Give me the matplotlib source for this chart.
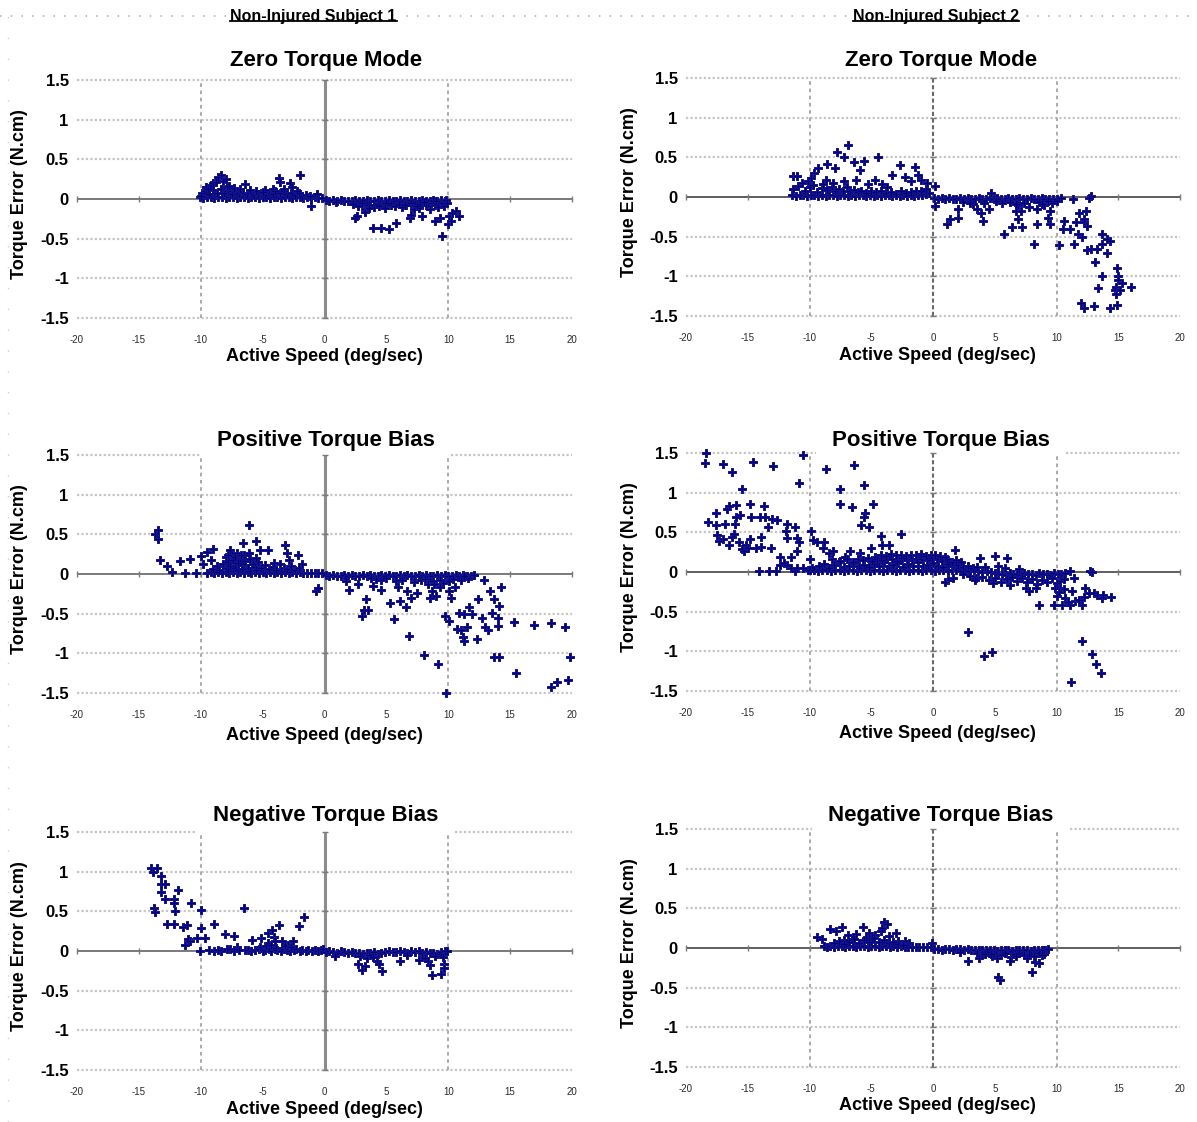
import matplotlib
matplotlib.use("Agg")
import matplotlib.pyplot as plt
from matplotlib.lines import Line2D

plt.rcParams['font.family'] = ['Liberation Sans', 'DejaVu Sans']

# ---------------------------------------------------------------- labels
subject_names = ["Non-Injured Subject 1", "Non-Injured Subject 2"]
mode_names = ["Zero Torque Mode", "Positive Torque Bias", "Negative Torque Bias"]
x_label = "Active Speed (deg/sec)"
y_label = "Torque Error (N.cm)"
x_ticks = [-20, -15, -10, -5, 0, 5, 10, 15, 20]
x_tick_labels = ["-20", "-15", "-10", "-5", "0", "5", "10", "15", "20"]
y_ticks = [-1.5, -1, -0.5, 0, 0.5, 1, 1.5]
y_tick_labels = ["-1.5", "-1", "-0.5", "0", "0.5", "1", "1.5"]
speed_limits = [-10, 10]

# ---------------------------------------------------------------- subject 1, zero torque
zero_s1_speed = [
    -10.1, -9.8, -9.5, -9.2, -8.9, -8.6, -8.3, -8.0, -7.7, -7.4,
    -7.1, -6.8, -6.5, -6.2, -5.9, -5.6, -5.3, -5.0, -4.7, -4.4,
    -4.1, -3.8, -3.5, -3.2, -2.9, -2.6, -2.3, -2.0, -1.7, -1.4,
    -1.1, -0.8, -0.5, -0.2,
    -9.9, -9.6, -9.3, -9.0, -8.7, -8.4, -8.1, -7.8, -7.5, -7.2,
    -6.9, -6.6, -6.3, -6.0, -5.7, -5.4, -5.1, -4.8, -4.5, -4.2,
    -3.9, -3.6, -3.3, -3.0, -2.7, -2.4, -2.1, -1.8, -1.5, -1.2,
    -10.0, -9.6, -9.2, -9.0, -8.8, -8.6, -8.4, -8.2, -8.0, -7.9,
    -7.7, -7.3, -6.8, -6.4, -3.65, -3.6, -2.8, -2.6, -1.95, -1.1,
    -5.5, -4.8, -4.2, -3.3, -0.6, -9.4, -6.0, -5.0, -4.0, -2.2,
    0.1, 0.4, 0.7, 1.0, 1.3, 1.6, 1.9, 2.2, 2.5, 2.8,
    3.1, 3.4, 3.7, 4.0, 4.3, 4.6, 4.9, 5.2, 5.5, 5.8,
    6.1, 6.4, 6.7, 7.0, 7.3, 7.6, 7.9, 8.2, 8.5, 8.8,
    9.1, 9.4, 9.7,
    2.3, 2.7, 3.0, 3.3, 3.6, 4.0, 4.3, 4.7, 5.0, 5.4,
    5.7, 6.0, 6.3, 6.6, 7.0, 7.3, 7.6, 7.9, 8.2, 8.6,
    8.9, 9.2, 9.5,
    2.5, 3.3, 3.6, 3.9, 4.4, 4.6, 4.85, 5.2, 5.8, 6.9,
    7.2, 7.5, 7.9, 8.4, 8.55, 8.9, 9.3, 9.5, 9.65, 9.8,
    10.0, 10.1, 10.6, 10.9, 0.9, 2.6, 6.5, 7.0, 8.0, 9.0,
    9.9, 10.2, 10.3,
]
zero_s1_error = [
    0.02, 0.01, 0.03, 0.02, 0.01, 0.02, 0.03, 0.01, 0.02, 0.02,
    0.01, 0.03, 0.02, 0.01, 0.02, 0.03, 0.01, 0.02, 0.02, 0.01,
    0.03, 0.02, 0.01, 0.02, 0.03, 0.01, 0.02, 0.02, 0.01, 0.02,
    0.01, 0.02, 0.01, 0.01,
    0.07, 0.10, 0.06, 0.11, 0.08, 0.12, 0.07, 0.10, 0.06, 0.09,
    0.07, 0.08, 0.06, 0.07, 0.05, 0.06, 0.07, 0.05, 0.08, 0.06,
    0.09, 0.07, 0.10, 0.06, 0.08, 0.05, 0.07, 0.04, 0.05, 0.04,
    0.04, 0.15, 0.18, 0.20, 0.22, 0.28, 0.30, 0.23, 0.25, 0.15,
    0.16, 0.14, 0.12, 0.19, 0.26, 0.22, 0.20, 0.15, 0.30, -0.09,
    0.10, 0.11, 0.12, 0.13, 0.06, 0.12, 0.11, 0.09, 0.10, 0.10,
    -0.01, -0.02, -0.01, -0.02, -0.01, -0.02, -0.03, -0.02, -0.01, -0.03,
    -0.02, -0.01, -0.03, -0.02, -0.01, -0.03, -0.02, -0.01, -0.02, -0.03,
    -0.01, -0.02, -0.03, -0.01, -0.02, -0.03, -0.01, -0.02, -0.03, -0.01,
    -0.02, -0.01, -0.02,
    -0.06, -0.09, -0.05, -0.12, -0.07, -0.10, -0.06, -0.08, -0.05, -0.07,
    -0.09, -0.06, -0.10, -0.08, -0.05, -0.07, -0.11, -0.06, -0.08, -0.05,
    -0.07, -0.10, -0.05,
    -0.24, -0.17, -0.11, -0.36, -0.09, -0.36, -0.11, -0.38, -0.30, -0.24,
    -0.13, -0.09, -0.22, -0.05, -0.13, -0.28, -0.24, -0.47, -0.09, -0.01,
    -0.32, -0.22, -0.15, -0.22, -0.04, -0.21, -0.07, -0.20, -0.04, -0.02,
    -0.05, -0.28, -0.18,
]

# ---------------------------------------------------------------- subject 2, zero torque
zero_s2_speed = [
    -11.4, -11.1, -10.8, -10.5, -10.2, -9.9, -9.6, -9.3, -9.0, -8.7,
    -8.4, -8.1, -7.8, -7.5, -7.2, -6.9, -6.6, -6.3, -6.0, -5.7,
    -5.4, -5.1, -4.8, -4.5, -4.2, -3.9, -3.6, -3.3, -3.0, -2.7,
    -2.4, -2.1, -1.8, -1.5, -1.2, -0.9, -0.6, -0.3,
    -11.3, -10.9, -10.4, -10.0, -9.7, -9.4, -9.0, -8.6, -8.2, -7.9,
    -7.6, -7.3, -7.0, -6.7, -6.4, -6.1, -5.8, -5.4, -5.0, -4.6,
    -4.2, -3.8, -3.4, -3.0, -2.6, -2.2, -1.8, -1.4, -1.0, -0.6,
    -6.85, -7.8, -7.2, -5.6, -4.45, -6.4, -8.55, -9.3, -7.9, -2.7,
    -1.45, -5.95, -3.3, -2.25, -1.25, -11.3, -11.0, -9.6, -10.1, -10.6,
    -8.7, -8.1, -7.2, -5.3, -4.7, -4.1, -1.8, -1.0, -0.45, 0.2,
    -9.9, -8.9, -6.2, -3.7,
    0.1, 0.4, 0.7, 1.0, 1.3, 1.6, 1.9, 2.2, 2.5, 2.8,
    3.1, 3.4, 3.7, 4.0, 4.3, 4.6, 4.9, 5.2, 5.5, 5.8,
    6.1, 6.4, 6.7, 7.0, 7.3, 7.6, 7.9, 8.2, 8.5, 8.8,
    9.1, 9.4, 9.7, 10.0,
    2.4, 3.2, 4.1, 5.1, 5.6, 6.2, 6.9, 7.4, 7.8, 8.6,
    9.0, 9.6,
    0.2, 1.1, 1.4, 2.0, 2.05, 3.0, 3.6, 3.9, 4.05, 4.5,
    4.7, 5.75, 6.4, 6.7, 6.9, 7.1, 7.2, 6.7, 8.2, 8.4,
    8.4, 8.85, 9.3, 9.45, 9.45, 9.3, 10.0, 10.2, 10.4, 10.6,
    10.5, 11.1, 11.3, 11.45, 11.55, 11.75, 11.85, 12.1, 12.2, 12.25,
    12.4, 12.5, 12.5, 12.8, 12.65, 12.8, 13.3, 13.1, 13.4, 13.0,
    12.2, 11.95, 13.7, 13.7, 14.05, 14.35, 14.05, 13.7, 14.3, 14.9,
    15.0, 14.85, 14.7, 14.85, 15.15, 15.0,
    14.9, 16.0, 15.3,
]
zero_s2_error = [
    0.02, 0.01, 0.03, 0.02, 0.01, 0.02, 0.03, 0.01, 0.02, 0.01,
    0.03, 0.02, 0.01, 0.02, 0.03, 0.01, 0.02, 0.01, 0.02, 0.03,
    0.01, 0.02, 0.01, 0.02, 0.01, 0.03, 0.02, 0.01, 0.02, 0.01,
    0.02, 0.01, 0.02, 0.01, 0.03, 0.02, 0.04, 0.05,
    0.10, 0.14, 0.08, 0.12, 0.15, 0.06, 0.11, 0.09, 0.13, 0.07,
    0.10, 0.08, 0.12, 0.07, 0.09, 0.06, 0.08, 0.05, 0.07, 0.06,
    0.08, 0.05, 0.06, 0.04, 0.07, 0.05, 0.06, 0.08, 0.07, 0.10,
    0.66, 0.57, 0.50, 0.46, 0.50, 0.44, 0.41, 0.37, 0.37, 0.40,
    0.38, 0.34, 0.28, 0.25, 0.28, 0.26, 0.27, 0.30, 0.20, 0.18,
    0.22, 0.18, 0.20, 0.16, 0.22, 0.16, 0.20, 0.22, 0.18, 0.14,
    0.24, 0.16, 0.21, 0.13,
    -0.01, -0.02, -0.01, -0.02, -0.01, -0.03, -0.02, -0.01, -0.02, -0.01,
    -0.03, -0.02, -0.01, -0.02, -0.03, -0.01, -0.02, -0.01, -0.03, -0.02,
    -0.01, -0.02, -0.03, -0.01, -0.02, -0.03, -0.01, -0.02, -0.03, -0.01,
    -0.02, -0.03, -0.02, -0.03,
    -0.06, -0.09, -0.07, -0.05, -0.08, -0.06, -0.10, -0.07, -0.12, -0.06,
    -0.10, -0.08,
    -0.11, -0.34, -0.28, -0.26, -0.15, -0.07, -0.15, -0.20, -0.30, -0.15,
    0.05, -0.47, -0.38, -0.18, -0.28, -0.18, -0.38, -0.09, -0.59, -0.34,
    -0.15, -0.09, -0.26, -0.34, -0.18, -0.05, -0.05, -0.61, -0.01, -0.30,
    -0.40, -0.40, -0.03, -0.59, -0.32, -0.47, -0.20, -0.50, -0.32, -0.28,
    -0.18, -0.36, -0.67, 0.01, -0.01, -0.65, -0.65, -0.82, -1.15, -1.38,
    -1.40, -1.34, -0.47, -0.59, -0.53, -0.55, -0.70, -0.99, -1.40, -0.90,
    -1.00, -1.13, -1.17, -1.22, -1.17, -1.05,
    -1.36, -1.13, -1.09,
]

# ---------------------------------------------------------------- subject 1, positive bias
pos_s1_speed = [
    -9.5, -9.2, -8.9, -8.6, -8.3, -8.0, -7.7, -7.4, -7.1, -6.8,
    -6.5, -6.2, -5.9, -5.6, -5.3, -5.0, -4.7, -4.4, -4.1, -3.8,
    -3.5, -3.2, -2.9, -2.6, -2.3, -2.0, -1.7, -1.4, -1.1, -0.8,
    -0.5, -0.2,
    -9.0, -8.7, -8.5, -8.2, -8.0, -7.8, -7.6, -7.4, -7.2, -7.0,
    -6.8, -6.6, -6.4, -6.2, -6.0, -5.8, -5.6, -5.4, -5.1, -4.8,
    -4.5, -4.2, -3.9, -3.6, -3.3, -3.0, -2.7, -2.4, -2.1,
    -8.0, -7.5, -7.0, -6.5, -6.0, -5.5, -7.8, -7.2, -6.7, -6.1,
    -13.7, -13.45, -13.45, -13.3, -12.7, -12.3, -11.7, -11.3, -10.9, -10.4,
    -10.0, -9.5, -9.8, -9.05, -9.2, -7.65, -7.8, -7.1, -6.75, -6.6,
    -6.1, -5.55, -5.2, -4.6, -5.5, -3.2, -3.05, -2.9, -2.15, -1.8,
    -4.1, -0.7, -0.5,
    0.1, 0.4, 0.7, 1.0, 1.3, 1.6, 1.9, 2.2, 2.5, 2.8,
    3.1, 3.4, 3.7, 4.0, 4.3, 4.6, 4.9, 5.2, 5.5, 5.8,
    6.1, 6.4, 6.7, 7.0, 7.3, 7.6, 7.9, 8.2, 8.5, 8.8,
    9.1, 9.4, 9.7, 10.0, 10.3, 10.6, 10.9, 11.2, 11.5, 11.8,
    12.1,
    4.2, 5.0, 5.8, 6.3, 7.2, 7.8, 8.1, 8.8, 9.3, 9.6,
    10.4, 11.0, 11.6,
    1.75, 1.95, 2.7, 3.0, 3.2, 3.35, 3.5, 3.75, 3.9, 4.55,
    4.55, 5.3, 5.6, 5.95, 6.1, 6.55, 6.85, 6.7, 7.0, 7.5,
    8.05, 8.4, 8.55, 8.7, 8.85, 9.2, 9.0, 9.35, 9.75, 9.8,
    10.1, 10.1, 10.25, 10.55, 10.7, 10.9, 11.05, 11.2, 11.3, 11.3,
    11.5, 11.7, 11.95, 12.35, 12.4, 12.75, 12.9, 13.0, 13.2, 13.35,
    13.5, 13.7, 13.7, 14.0, 14.0, 14.1, 14.1, 14.3, 15.35, 15.5,
    16.9, 18.3, 18.3, 18.75, 19.4, 19.7, 19.85, 10.1, 11.3, 12.1,
]
pos_s1_error = [
    0.01, 0.02, 0.01, 0.02, 0.01, 0.02, 0.01, 0.02, 0.01, 0.02,
    0.01, 0.02, 0.01, 0.02, 0.01, 0.02, 0.01, 0.02, 0.01, 0.02,
    0.01, 0.02, 0.01, 0.02, 0.01, 0.02, 0.01, 0.01, 0.01, 0.01,
    0.01, 0.01,
    0.06, 0.10, 0.05, 0.12, 0.08, 0.15, 0.10, 0.18, 0.07, 0.14,
    0.20, 0.11, 0.16, 0.08, 0.19, 0.12, 0.09, 0.15, 0.07, 0.11,
    0.06, 0.09, 0.05, 0.12, 0.07, 0.06, 0.10, 0.05, 0.08,
    0.22, 0.25, 0.05, 0.24, 0.04, 0.05, 0.04, 0.21, 0.06, 0.27,
    0.50, 0.55, 0.44, 0.18, 0.10, 0.02, 0.16, 0.01, 0.19, 0.01,
    0.23, 0.28, 0.12, 0.32, 0.18, 0.30, 0.24, 0.26, 0.24, 0.39,
    0.62, 0.41, 0.30, 0.30, 0.20, 0.37, 0.26, 0.18, 0.24, 0.12,
    0.14, -0.22, -0.18,
    -0.01, -0.02, -0.01, -0.03, -0.02, -0.01, -0.02, -0.01, -0.03, -0.02,
    -0.01, -0.02, -0.01, -0.03, -0.02, -0.01, -0.02, -0.01, -0.03, -0.02,
    -0.01, -0.02, -0.01, -0.03, -0.02, -0.01, -0.02, -0.01, -0.03, -0.02,
    -0.01, -0.02, -0.01, -0.03, -0.02, -0.01, -0.02, -0.01, -0.03, -0.02,
    -0.01,
    -0.06, -0.05, -0.09, -0.07, -0.10, -0.08, -0.06, -0.09, -0.07, -0.11,
    -0.06, -0.08, -0.05,
    -0.09, -0.20, -0.13, -0.53, -0.46, -0.32, -0.46, -0.05, -0.15, -0.20,
    -0.08, -0.36, -0.57, -0.17, -0.34, -0.42, -0.78, -0.22, -0.30, -0.24,
    -1.02, -0.13, -0.30, -0.22, -0.13, -1.13, -0.28, -0.17, -0.53, -1.50,
    -0.59, -0.22, -0.30, -0.17, -0.69, -0.49, -0.71, -0.80, -0.84, -0.50,
    -0.67, -0.42, -0.50, -0.82, -0.32, -0.55, -0.07, -0.67, -0.71, -0.22,
    -0.49, -0.32, -1.05, -0.55, -0.65, -1.05, -0.40, -0.17, -0.60, -1.25,
    -0.64, -0.62, -1.42, -1.36, -0.67, -1.33, -1.05, -0.09, -0.03, -0.01,
]

# ---------------------------------------------------------------- subject 2, positive bias
pos_s2_speed = [
    -18.4, -18.5, -17.0, -16.25, -14.6, -12.95, -10.55, -10.85, -15.5, -8.7,
    -6.4, -5.6, -7.55, -7.55, -6.55, -4.85, -5.5, -5.6, -5.8, -5.15,
    -4.25, -4.1, -3.6, -2.6, -18.25, -17.6, -17.6, -17.5, -17.3, -17.0,
    -16.85, -16.7, -16.55, -16.55, -16.25, -16.15, -16.0, -15.95, -15.95, -15.6,
    -15.7, -15.5, -15.3, -15.15, -15.0, -14.85, -14.8, -14.7, -14.0, -13.95,
    -13.7, -13.6, -13.4, -13.95, -14.3, -13.15, -13.0, -12.65, -12.4, -11.9,
    -11.8, -11.8, -11.15, -11.0, -10.85, -11.0, -11.5, -9.85, -9.75, -9.4,
    -8.9, -8.85, -10.0, -8.4, -8.1, -7.15, -6.7, -5.9, -5.0, -4.7,
    -14.1, -13.3, -12.7, -12.4, -12.1, -11.8, -11.5, -11.15, -11.0, -10.55,
    -10.1, -9.8,
    -10.0, -9.65, -9.3, -8.95, -8.6, -8.25, -7.9, -7.55, -7.2, -6.85,
    -6.5, -6.15, -5.8, -5.45, -5.1, -4.75, -4.4, -4.05, -3.7, -3.35,
    -3.0, -2.65, -2.3, -1.95, -1.6, -1.25, -0.9, -0.55, -0.2, 0.15,
    0.5, 0.85, 1.2, 1.55, 1.9, 2.25, 2.6, 2.95, 3.3, 3.65,
    4.0, 4.35, 4.7,
    -9.2, -8.8, -8.4, -8.0, -7.6, -7.2, -6.8, -6.4, -6.0, -5.6,
    -5.2, -4.8, -4.4, -4.0, -3.6, -3.2, -2.8, -2.4, -2.0, -1.6,
    -1.2, -0.8, -0.4, 0.0, 0.4, 0.8, 1.2, 1.6, 2.0, 2.4,
    2.8, 3.2, 3.6,
    -7.5, -7.0, -6.5, -6.1, -5.7, -5.3, -4.9, -4.5, -4.1, -3.7,
    -3.3, -2.9, -2.5, -2.1, -1.7, -1.3, -0.9, -0.5, -0.1, 0.3,
    0.7, 1.1, 1.5, 1.9, 2.3, -8.2,
    -4.2, -3.8, -3.4, -3.0, -2.6, -2.2, -1.8, -1.4, -1.0, -0.6,
    -0.2, 0.2, 0.6, 1.0,
    5.0, 5.3, 5.6, 5.9, 6.2, 6.5, 6.8, 7.1, 7.4, 7.7,
    8.0, 8.3, 8.6, 8.9, 9.2, 9.5, 9.8, 10.1, 10.4, 10.7,
    3.0, 3.5, 4.0, 4.5, 5.0, 5.5, 6.0, 6.4, 6.8, 7.2,
    7.6, 8.0, 8.4, 8.8, 9.2, 9.6, 10.0, 10.3, 10.6, 4.2,
    5.8, 7.0,
    1.8, 3.8, 5.05, 6.0, 5.25, 1.25, 3.4, 4.85, 6.2, 7.5,
    7.8, 8.3, 8.6, 9.8, 9.9, 10.3, 10.7, 10.45, 11.1, 11.5,
    12.05, 12.2, 12.3, 12.65, 13.0, 13.25, 13.65, 13.8, 14.45, 11.4,
    11.25, 11.1, 12.7, 12.85, 2.85, 4.1, 4.8, 12.05, 12.85, 13.2,
    13.6, 11.2,
    1.0, 1.6, 2.4, 10.0, 10.2, 10.6, 10.9, 11.8,
]
pos_s2_error = [
    1.50, 1.37, 1.36, 1.26, 1.39, 1.33, 1.47, 1.12, 1.05, 1.30,
    1.35, 1.10, 1.05, 0.86, 0.82, 0.86, 0.75, 0.69, 0.59, 0.57,
    0.46, 0.34, 0.34, 0.48, 0.63, 0.75, 0.59, 0.47, 0.39, 0.41,
    0.60, 0.79, 0.83, 0.34, 0.44, 0.48, 0.61, 0.85, 0.69, 0.72,
    0.38, 0.29, 0.26, 0.34, 0.30, 0.86, 0.41, 0.69, 0.69, 0.44,
    0.83, 0.69, 0.57, 0.32, 0.30, 0.30, 0.67, 0.66, 0.19, 0.52,
    0.61, 0.43, 0.57, 0.43, 0.38, 0.26, 0.19, 0.52, 0.40, 0.38,
    0.30, 0.38, 0.17, 0.24, 0.26, 0.19, 0.26, 0.24, 0.30, 0.19,
    0.01, 0.01, 0.01, 0.09, 0.11, 0.09, 0.05, 0.01, 0.05, 0.05,
    0.03, 0.05,
    0.02, 0.03, 0.01, 0.02, 0.03, 0.01, 0.02, 0.03, 0.01, 0.02,
    0.03, 0.01, 0.02, 0.03, 0.01, 0.02, 0.03, 0.01, 0.02, 0.03,
    0.01, 0.02, 0.03, 0.01, 0.02, 0.03, 0.01, 0.02, 0.03, 0.01,
    0.02, 0.03, 0.01, 0.02, 0.03, 0.01, 0.02, 0.01, 0.02, 0.01,
    0.00, 0.01, 0.00,
    0.07, 0.10, 0.05, 0.09, 0.12, 0.06, 0.08, 0.11, 0.07, 0.09,
    0.06, 0.10, 0.08, 0.12, 0.07, 0.09, 0.11, 0.06, 0.10, 0.08,
    0.12, 0.07, 0.09, 0.11, 0.08, 0.06, 0.10, 0.07, 0.09, 0.06,
    0.08, 0.05, 0.06,
    0.14, 0.17, 0.13, 0.16, 0.15, 0.18, 0.14, 0.17, 0.15, 0.19,
    0.16, 0.14, 0.18, 0.15, 0.17, 0.16, 0.19, 0.15, 0.18, 0.16,
    0.14, 0.17, 0.13, 0.15, 0.12, 0.16,
    0.22, 0.20, 0.23, 0.21, 0.22, 0.20, 0.22, 0.21, 0.23, 0.20,
    0.22, 0.21, 0.20, 0.19,
    -0.01, -0.03, -0.02, -0.04, -0.01, -0.03, -0.02, -0.04, -0.01, -0.03,
    -0.02, -0.04, -0.01, -0.03, -0.02, -0.04, -0.01, -0.03, -0.02, -0.01,
    -0.05, -0.08, -0.06, -0.10, -0.07, -0.12, -0.09, -0.06, -0.11, -0.08,
    -0.13, -0.09, -0.15, -0.10, -0.12, -0.08, -0.14, -0.11, -0.09, 0.06,
    0.05, 0.04,
    0.28, 0.18, 0.20, 0.18, 0.07, -0.10, -0.10, -0.14, -0.16, -0.20,
    -0.24, -0.20, -0.42, -0.41, -0.20, -0.20, -0.33, -0.41, -0.41, -0.37,
    -0.41, -0.31, -0.20, -0.26, -0.26, -0.29, -0.33, -0.29, -0.31, -0.08,
    -0.24, 0.01, 0.01, 0.00, -0.76, -1.06, -1.01, -0.87, -1.03, -1.16,
    -1.27, -1.39,
    -0.12, -0.08, -0.03, -0.30, -0.25, -0.22, -0.38, -0.35,
]

# ---------------------------------------------------------------- subject 1, negative bias
neg_s1_speed = [
    -14.0, -13.55, -13.85, -13.2, -13.25, -12.85, -13.2, -12.9, -11.85, -12.15,
    -12.15, -12.1, -13.75, -13.7, -12.7, -12.15, -10.75, -10.0, -11.4, -11.1,
    -11.3, -11.05, -10.85, -10.3, -10.0, -9.65, -8.95, -10.1, -8.05, -7.35,
    -6.5, -7.05, -5.85, -5.1, -4.6, -4.55, -4.25, -4.1, -4.0, -3.65,
    -3.4, -2.95, -2.55, -2.05, -1.65, -8.35, -7.65, -6.4,
    -9.3, -8.9, -8.6, -7.9, -7.3, -6.9, -6.2, -5.9, -5.6, -5.3,
    -5.0, -4.8, -4.5, -4.3, -4.0, -3.8, -3.5, -3.3, -3.0, -2.8,
    -2.5, -2.3, -2.0, -1.8, -1.5, -1.3, -1.0, -0.8, -0.5, -0.3,
    -0.1,
    -5.2, -4.7, -4.35, -3.9, -3.2, -2.7,
    0.1, 0.4, 0.7, 1.0, 1.3, 1.6, 1.9, 2.2, 2.5, 2.8,
    3.1, 3.4, 3.7, 4.0, 4.3, 4.6, 4.9, 5.2, 5.5, 5.8,
    6.1, 6.4, 6.7, 7.0, 7.3, 7.6, 7.9, 8.2, 8.5, 8.8,
    9.1, 9.4, 9.7,
    0.85, 2.7, 3.0, 3.3, 3.4, 4.25, 4.4, 4.65, 6.1, 6.7,
    7.65, 8.15, 8.4, 8.5, 8.7, 9.4, 9.6, 9.65, 9.65, 9.9,
    2.9, 3.6, 3.9, 8.9,
]
neg_s1_error = [
    1.05, 1.05, 1.00, 0.95, 0.84, 0.85, 0.74, 0.66, 0.77, 0.66,
    0.60, 0.50, 0.54, 0.49, 0.34, 0.34, 0.61, 0.52, 0.30, 0.33,
    0.07, 0.15, 0.12, 0.17, 0.29, 0.16, 0.34, 0.00, 0.22, 0.19,
    0.54, 0.05, 0.14, 0.17, 0.10, 0.23, 0.26, 0.18, 0.12, 0.33,
    0.12, 0.07, 0.12, 0.32, 0.43, 0.00, 0.03, 0.01,
    0.01, 0.00, 0.01, 0.02, 0.00, 0.01, 0.01, 0.00, 0.01, 0.02,
    0.00, 0.01, 0.03, 0.00, 0.02, 0.01, 0.00, 0.02, 0.01, 0.00,
    0.01, 0.02, 0.00, 0.01, 0.00, 0.01, 0.00, 0.01, 0.00, 0.01,
    0.02,
    0.05, 0.06, 0.08, 0.04, 0.06, 0.05,
    -0.01, 0.00, -0.01, -0.02, 0.00, -0.01, -0.02, -0.01, -0.03, -0.02,
    -0.04, -0.02, -0.03, -0.01, -0.04, -0.02, -0.01, 0.00, -0.01, -0.01,
    0.00, -0.01, -0.02, 0.00, -0.01, 0.00, -0.02, -0.01, -0.03, -0.02,
    -0.04, -0.01, 0.00,
    -0.06, -0.17, -0.24, -0.19, -0.09, -0.13, -0.17, -0.25, -0.12, -0.05,
    -0.11, -0.09, -0.13, -0.18, -0.30, -0.29, -0.08, -0.17, -0.22, 0.00,
    -0.06, -0.05, -0.07, -0.06,
]

# ---------------------------------------------------------------- subject 2, negative bias
neg_s2_speed = [
    -9.4, -9.0, -8.85, -8.3, -7.85, -7.4, -6.9, -6.55, -5.7, -5.15,
    -4.7, -4.25, -3.95, -3.7, -4.1, -3.6, -3.0, -2.85, -2.25, -1.95,
    -0.1, -6.2, -5.4, -4.9, -7.2,
    -8.6, -8.3, -8.0, -7.7, -7.4, -7.1, -6.8, -6.5, -6.2, -5.9,
    -5.6, -5.3, -5.0, -4.7, -4.4, -4.1, -3.8, -3.5, -3.2, -2.9,
    -2.6, -2.3, -2.0, -1.7, -1.4, -1.1, -0.8, -0.5, -0.2,
    -8.0, -7.6, -7.2, -6.8, -6.4, -6.0, -5.6, -5.2, -4.8, -4.4,
    -4.0, -3.6, -3.2, -2.8, -2.4,
    0.1, 0.4, 0.7, 1.0, 1.3, 1.6, 1.9, 2.2, 2.5, 2.8,
    3.1, 3.4, 3.7, 4.0, 4.3, 4.6, 4.9, 5.2, 5.5, 5.8,
    6.1, 6.4, 6.7, 7.0, 7.3, 7.6, 7.9, 8.2, 8.5, 8.8,
    9.1,
    3.6, 4.0, 4.4, 4.8, 5.1, 5.5, 5.9, 6.3, 6.6, 7.0,
    7.4, 7.8, 8.2, 8.6, 9.0,
    2.2, 2.85, 3.7, 5.3, 5.45, 6.2, 6.7, 7.6, 8.05, 8.25,
    8.55, 8.85, 9.0, 9.3, 4.7, 5.2, 5.8, 4.2,
]
neg_s2_error = [
    0.14, 0.11, 0.03, 0.24, 0.21, 0.27, 0.16, 0.11, 0.27, 0.19,
    0.17, 0.21, 0.33, 0.30, 0.25, 0.15, 0.19, 0.09, 0.09, 0.06,
    0.06, 0.18, 0.13, 0.12, 0.10,
    0.01, 0.02, 0.01, 0.03, 0.02, 0.01, 0.02, 0.03, 0.01, 0.02,
    0.03, 0.01, 0.02, 0.03, 0.01, 0.02, 0.03, 0.01, 0.02, 0.01,
    0.02, 0.01, 0.01, 0.01, 0.01, 0.01, 0.01, 0.01, 0.01,
    0.06, 0.09, 0.05, 0.08, 0.11, 0.06, 0.10, 0.07, 0.12, 0.08,
    0.10, 0.06, 0.08, 0.05, 0.04,
    -0.01, -0.01, -0.02, -0.01, -0.01, -0.02, -0.01, -0.01, -0.02, -0.01,
    -0.02, -0.03, -0.02, -0.03, -0.02, -0.03, -0.02, -0.04, -0.02, -0.03,
    -0.02, -0.04, -0.03, -0.02, -0.03, -0.02, -0.04, -0.02, -0.03, -0.02,
    -0.03,
    -0.06, -0.08, -0.05, -0.10, -0.07, -0.09, -0.06, -0.11, -0.08, -0.06,
    -0.09, -0.07, -0.10, -0.06, -0.08,
    -0.05, -0.17, -0.12, -0.36, -0.40, -0.16, -0.10, -0.13, -0.30, -0.18,
    -0.19, -0.09, -0.03, -0.01, -0.07, -0.13, -0.06, -0.07,
]

panel_data = [
    [(zero_s1_speed, zero_s1_error), (zero_s2_speed, zero_s2_error)],
    [(pos_s1_speed, pos_s1_error), (pos_s2_speed, pos_s2_error)],
    [(neg_s1_speed, neg_s1_error), (neg_s2_speed, neg_s2_error)],
]

# ---------------------------------------------------------------- layout (pixels)
W, H = 1197, 1122
fig = plt.figure(figsize=(W / 100, H / 100), dpi=100)
fig.patch.set_facecolor('white')

col_left = [77, 686]
col_width = [495, 494]
row_top = [[80, 78], [455, 453], [832, 829]]
plot_h = 238
title_cx = [326, 941]
title_base = [66, 446, 821]
xlabel_off = [39, 43, 39]

MARK_FACE = '#000080'
MARK_EDGE = '#141488'
GRID = '#c6c6c6'


def fx(px):
    return px / W


def fy(py):
    return 1 - py / H


gap_rows = []
for r in range(3):
    for c in range(2):
        left, top, width = col_left[c], row_top[r][c], col_width[c]
        ax = fig.add_axes([fx(left), fy(top + plot_h), width / W, plot_h / H])
        ax.set_facecolor('white')
        for sp in ax.spines.values():
            sp.set_visible(False)
        ax.set_xticks(x_ticks)
        ax.set_xticklabels(x_tick_labels, fontsize=7, color='#2a2a2a')
        ax.set_yticks(y_ticks)
        ax.set_yticklabels(y_tick_labels, fontsize=12, fontweight='bold')
        ax.tick_params(axis='both', length=0)
        ax.tick_params(axis='x', pad=12)
        ax.tick_params(axis='y', pad=6)

        # horizontal dotted gridlines
        for yv in y_ticks:
            if yv == 0:
                continue
            if r > 0 and yv == y_ticks[-1]:
                continue
            ax.axhline(yv, color=GRID, lw=1.6, ls=(0, (1, 1)), zorder=1, clip_on=False)

        # speed limit markers
        for xv in speed_limits:
            ax.axvline(xv, color='#a4a4a4', lw=1.3, ls=(0, (2, 2)), zorder=1.2)

        # zero axes
        if c == 0:
            ax.axvline(0, color='#8c8c8c', lw=2.2, zorder=1.5)
            ax.axhline(0, color='#7a7a7a', lw=1.4, zorder=1.5)
        else:
            ax.axvline(0, color='#6a6a6a', lw=1.5, ls=(0, (2, 1.2)), zorder=1.5)
            ax.axhline(0, color='#5e5e5e', lw=1.4, zorder=1.5)
        ax.plot(x_ticks, [0] * len(x_ticks), ls='none', marker='|', ms=5,
                mew=1.0, color='#7a7a7a', zorder=1.6, clip_on=False)
        ax.plot([0] * len(y_ticks), y_ticks, ls='none', marker='_', ms=5,
                mew=1.0, color='#7a7a7a', zorder=1.6, clip_on=False)

        xs, ys = panel_data[r][c]
        ax.scatter(xs, ys, s=28, marker='P', facecolor=MARK_FACE,
                   edgecolors=MARK_EDGE, linewidths=0.7, zorder=3, clip_on=False)

        ax.set_xlim(-20, 20)
        ax.set_ylim(-1.5, 1.5)

        # titles and axis labels
        t = fig.text(fx(title_cx[c]), fy(title_base[r]), mode_names[r],
                     ha='center', va='baseline', fontsize=16, fontweight='bold')
        fig.text(fx(left + width / 2 + (4 if c else 0)),
                 fy(top + plot_h + xlabel_off[r]), x_label,
                 ha='center', va='center', fontsize=13, fontweight='bold')
        fig.text(fx(20 if c == 0 else 630), fy(top + plot_h / 2 - 5), y_label,
                 rotation=90, ha='center', va='center', fontsize=13, fontweight='bold')
        if r > 0:
            gap_rows.append((ax, t))

# ---------------------------------------------------------------- subject headers
header_y = 16
fig.add_artist(Line2D([0, 1], [fy(header_y)] * 2, transform=fig.transFigure,
                      color='#adadad', lw=1.1, ls=(0, (1, 6)), zorder=1))
fig.add_artist(Line2D([fx(8)] * 2, [0, 1], transform=fig.transFigure,
                      color='#d0d0d0', lw=1.0, ls=(0, (1, 14)), zorder=1))
headers = []
for cx, name in zip([313.5, 936], subject_names):
    h = fig.text(fx(cx), fy(header_y), name, ha='center', va='center',
                 fontsize=11.5, fontweight='bold', zorder=5,
                 bbox=dict(boxstyle='square,pad=0.3', facecolor='white', edgecolor='none'))
    headers.append(h)

fig.canvas.draw()
renderer = fig.canvas.get_renderer()

# underline the subject headers
for h in headers:
    bb = h.get_window_extent(renderer)
    yline = (bb.y0 + 2.5) / H
    fig.add_artist(Line2D([bb.x0 / W, bb.x1 / W], [yline, yline], transform=fig.transFigure,
                          color='black', lw=1.3, zorder=6))

# top gridline interrupted where the panel title sits
for ax, t in gap_rows:
    bb = t.get_window_extent(renderer)
    inv = ax.transData.inverted()
    xa = inv.transform((bb.x0 - 16, 0))[0]
    xb = inv.transform((bb.x1 + 16, 0))[0]
    top = y_ticks[-1]
    ax.hlines(top, x_ticks[0], xa, color=GRID, lw=1.6, linestyles=[(0, (1, 1))],
              zorder=1, clip_on=False)
    ax.hlines(top, xb, x_ticks[-1], color=GRID, lw=1.6, linestyles=[(0, (1, 1))],
              zorder=1, clip_on=False)
    ax.set_xlim(-20, 20)

fig.savefig('out.png', dpi=100, facecolor='white')
